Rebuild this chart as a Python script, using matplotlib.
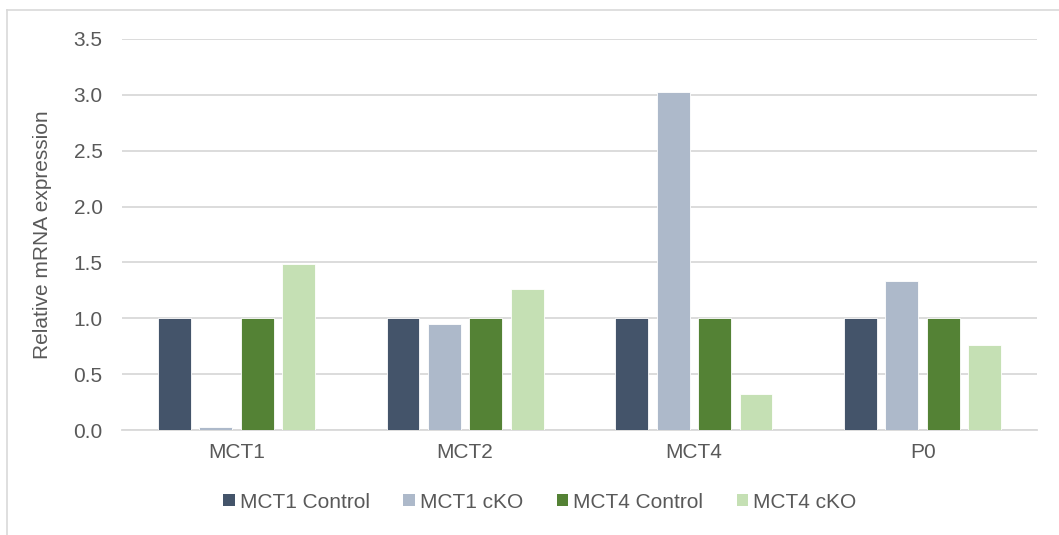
import matplotlib
matplotlib.use("Agg")
import matplotlib.pyplot as plt
import numpy as np
from matplotlib.lines import Line2D
from matplotlib import font_manager

# Data
categories = ["MCT1", "MCT2", "MCT4", "P0"]
series_names = ["MCT1 Control", "MCT1 cKO", "MCT4 Control", "MCT4 cKO"]
mct1_control = [1.0, 1.0, 1.0, 1.0]
mct1_cko = [0.03, 0.95, 3.03, 1.33]
mct4_control = [1.0, 1.0, 1.0, 1.0]
mct4_cko = [1.49, 1.26, 0.32, 0.76]
yticks = [0.0, 0.5, 1.0, 1.5, 2.0, 2.5, 3.0, 3.5]

colors = ["#44546A", "#ADB9CA", "#548235", "#C5E0B4"]
text_color = "#595959"
grid_color = "#D9D9D9"

plt.rcParams["font.family"] = ["Liberation Sans", "DejaVu Sans"]

installed = {f.name for f in font_manager.fontManager.ttflist}
legend_family = ["Liberation Sans Narrow", "Liberation Sans"] \
    if "Liberation Sans Narrow" in installed else ["Liberation Sans"]

W, H = 1059, 535
fig = plt.figure(figsize=(W / 100, H / 100), dpi=100)
ax = fig.add_axes([122 / W, 1 - 430 / H, (1037 - 122) / W, (430 - 39) / H])

series = [mct1_control, mct1_cko, mct4_control, mct4_cko]
x = np.arange(len(categories))
pitch = 0.181
width = 0.144
offsets = (np.arange(4) - 1.5) * pitch
for vals, off, c, name in zip(series, offsets, colors, series_names):
    ax.bar(x + off, vals, width=width, color=c, edgecolor="white",
           linewidth=0.6, label=name, zorder=3)

ax.set_xlim(-0.5, len(categories) - 0.5)
ax.set_ylim(0, 3.5)
ax.set_yticks(yticks)
ax.set_yticklabels([f"{v:.1f}" for v in yticks])
ax.set_xticks(x)
ax.set_xticklabels(categories)

ax.yaxis.grid(True, color=grid_color, linewidth=1.3, zorder=0)
ax.set_axisbelow(True)
for s in ["top", "right", "left"]:
    ax.spines[s].set_visible(False)
ax.spines["bottom"].set_color(grid_color)
ax.spines["bottom"].set_linewidth(1.3)
ax.tick_params(axis="both", length=0, labelsize=15, colors=text_color)
ax.tick_params(axis="y", pad=14)
ax.tick_params(axis="x", pad=9)

ax.set_ylabel("Relative mRNA expression", fontsize=15, color=text_color,
              labelpad=15)

leg = fig.legend(loc="center", bbox_to_anchor=(540 / W, 1 - 502 / H), ncol=4,
                 frameon=False, prop={"family": legend_family, "size": 15},
                 handlelength=0.55, handleheight=0.55, handletextpad=0.25,
                 columnspacing=1.6)
for t in leg.get_texts():
    t.set_color(text_color)
for h in leg.legend_handles:
    h.set_edgecolor("none")

# Chart frame
fig.add_artist(Line2D([7 / W, 1], [1 - 10 / H, 1 - 10 / H],
                      transform=fig.transFigure, color=grid_color, linewidth=1.2))
fig.add_artist(Line2D([7 / W, 7 / W], [0, 1 - 10 / H],
                      transform=fig.transFigure, color=grid_color, linewidth=1.2))

fig.savefig("out.png", dpi=100, facecolor="white")
